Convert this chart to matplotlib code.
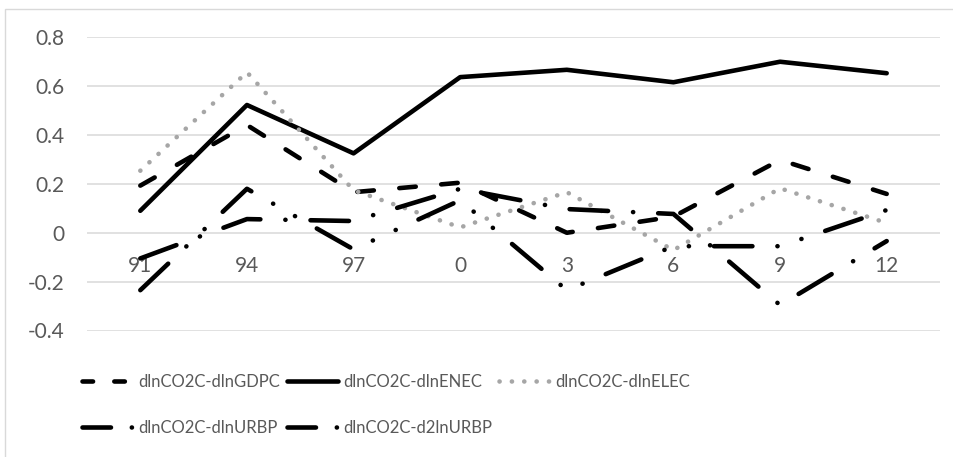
import matplotlib
matplotlib.use('Agg')
import matplotlib.pyplot as plt
from matplotlib.patches import Rectangle
from matplotlib.lines import Line2D

categories = ['91', '94', '97', '0', '3', '6', '9', '12']
gdpc = [0.193, 0.441, 0.166, 0.205, 0.0, 0.066, 0.298, 0.159]
enec = [0.09, 0.523, 0.325, 0.637, 0.667, 0.616, 0.70, 0.653]
elec = [0.254, 0.657, 0.174, 0.022, 0.166, -0.071, 0.182, 0.04]
urbp = [-0.105, 0.056, 0.048, 0.18, 0.097, 0.077, -0.296, -0.034]
d2urbp = [-0.235, 0.18, -0.068, 0.133, -0.235, -0.055, -0.055, 0.093]
yticks = [-0.4, -0.2, 0, 0.2, 0.4, 0.6, 0.8]
ytick_labels = ['-0.4', '-0.2', '0', '0.2', '0.4', '0.6', '0.8']
names = ['dlnCO2C-dlnGDPC', 'dlnCO2C-dlnENEC', 'dlnCO2C-dlnELEC',
         'dlnCO2C-dlnURBP', 'dlnCO2C-d2lnURBP']

plt.rcParams['lines.scale_dashes'] = False
TXT = '#595959'
GRID = '#d9d9d9'
GRAY = '#a6a6a6'
W, H = 954, 457

fig = plt.figure(figsize=(W / 100, H / 100), dpi=100)
ax = fig.add_axes([87 / W, 1 - 330.5 / H, (940 - 87) / W, (330.5 - 37.3) / H])

x = list(range(len(categories)))
lw = 3.3
common = dict(lw=lw, color='black', solid_capstyle='round', dash_capstyle='round',
              solid_joinstyle='round')
ax.plot(x, gdpc, linestyle=(0, (11.9, 18.4)), **common)
ax.plot(x, enec, linestyle='-', **common)
ax.plot(x, elec, linestyle=(0, (0.1, 8.8)), lw=3.3, color=GRAY,
        dash_capstyle='round')
ax.plot(x, urbp, linestyle=(0, (27.7, 18, 0.1, 18)), **common)
ax.plot(x, d2urbp, linestyle=(0, (27.7, 18, 0.1, 18, 0.1, 18)), **common)

ax.set_xlim(-0.5, len(categories) - 0.5)
ax.set_ylim(-0.4, 0.8)
ax.set_yticks(yticks)
ax.set_yticklabels(ytick_labels)
ax.set_xticks(x)
ax.set_xticklabels(categories)
for s in ax.spines.values():
    s.set_visible(False)
ax.spines['bottom'].set_position(('data', 0))
ax.grid(axis='y', color=GRID, lw=1.1)
ax.set_axisbelow(True)
ax.tick_params(axis='both', length=0, colors=TXT, labelsize=15)
ax.tick_params(axis='y', pad=16)
ax.tick_params(axis='x', pad=16.5)
for t in ax.get_xticklabels() + ax.get_yticklabels():
    t.set_family(['Lato', 'DejaVu Sans'])

# legend proxies
h_gdpc = Line2D([], [], lw=lw, color='black', linestyle=(0, (7.6, 15.3)), dash_capstyle='round')
h_enec = Line2D([], [], lw=lw, color='black', linestyle='-', solid_capstyle='round')
h_elec = Line2D([], [], lw=3.3, color=GRAY, linestyle=(0, (0.1, 8.8)), dash_capstyle='round')
h_urbp = Line2D([], [], lw=lw, color='black', linestyle=(0, (20.5, 15, 0.1, 30)), dash_capstyle='round')
h_d2 = Line2D([], [], lw=lw, color='black', linestyle=(0, (20.5, 15, 0.1, 30)), dash_capstyle='round')

handles = [h_gdpc, h_urbp, h_enec, h_d2, h_elec]
labels = [names[0], names[3], names[1], names[4], names[2]]
leg = fig.legend(handles, labels, ncol=3, loc='upper left',
                 bbox_to_anchor=(82 / W, 1 - 374 / H), frameon=False,
                 borderpad=0, borderaxespad=0, handlelength=3.1,
                 handletextpad=0.3, columnspacing=0.38, labelspacing=1.8,
                 prop={'family': ['Lato', 'DejaVu Sans'], 'size': 12})
for t in leg.get_texts():
    t.set_color(TXT)

fig.patches.append(Rectangle((5 / W, -0.1), 1.2, (1 - 9.3 / H) + 0.1,
                             transform=fig.transFigure, fill=False,
                             edgecolor=GRID, lw=1.0))

fig.savefig('out.png', dpi=100)
